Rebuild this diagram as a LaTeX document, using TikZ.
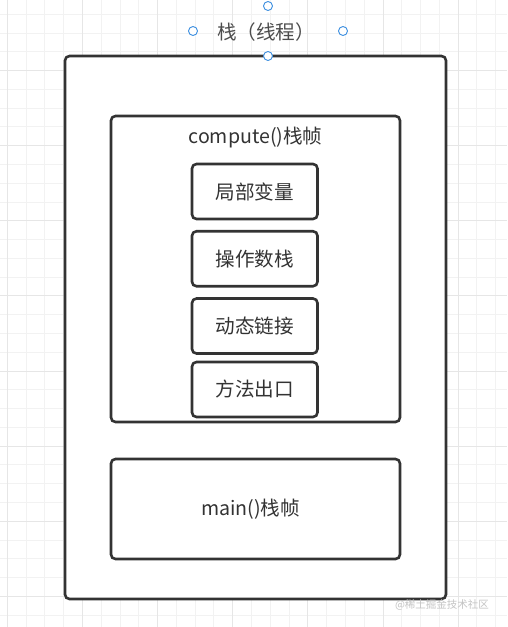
\documentclass[tikz,border=0pt]{standalone}
\usepackage{fontspec}
\setmainfont{Noto Sans CJK SC}
\newfontfamily\cjk{Noto Sans CJK SC}
\definecolor{edge}{HTML}{333333}
\definecolor{txt}{HTML}{333333}
\definecolor{ttl}{HTML}{4D4D4D}
\definecolor{minorgrid}{HTML}{F2F2F2}
\definecolor{majorgrid}{HTML}{E6E6E6}
\definecolor{handle}{HTML}{3D8FE0}
\definecolor{wm}{HTML}{C4C4C4}
\begin{document}
\begin{tikzpicture}[x=1pt,y=-1pt,
  frame/.style={draw=edge,line width=2.6pt,rounded corners=4.5pt,fill=white,inner sep=0pt},
  slot/.style={frame,minimum width=125.5pt,minimum height=55pt,font=\cjk\fontsize{19.6}{22}\selectfont,text=txt},
  lbl/.style={font=\cjk\fontsize{19.6}{22}\selectfont,text=txt,inner sep=0pt},
  handlept/.style={circle,draw=handle,fill=white,line width=0.9pt,minimum size=9pt,inner sep=0pt}]
\useasboundingbox (0,0) rectangle (507,627);
\fill[white] (0,0) rectangle (507,627);
% grid
\foreach \i in {0,...,26} {
  \draw[minorgrid,line width=0.8pt] ({7.3+18.78*\i},0) -- ({7.3+18.78*\i},627);
}
\foreach \j in {-3,...,32} {
  \draw[minorgrid,line width=0.8pt] (0,{70.5+18.78*\j}) -- (507,{70.5+18.78*\j});
}
\foreach \i in {0,...,6} {
  \draw[majorgrid,line width=0.8pt] ({7.3+75.12*\i},0) -- ({7.3+75.12*\i},627);
}
\foreach \j in {-1,...,7} {
  \draw[majorgrid,line width=0.8pt] (0,{70.5+75.12*\j}) -- (507,{70.5+75.12*\j});
}
% outer stack
\node[frame,minimum width=381pt,minimum height=543pt] (stack) at (255.5,327.5) {};
\node[lbl,text=ttl,font=\cjk\fontsize{19.6}{22}\selectfont] (title) at (266,32) {栈（线程）};
% compute frame
\node[frame,minimum width=289pt,minimum height=306pt] (compute) at (255.5,269) {};
\node[lbl] (computelbl) at (255.5,137.5) {compute()栈帧};
\node[slot] (locals) at (254.75,191.5) {局部变量};
\node[slot] (operand) at (254.75,258.75) {操作数栈};
\node[slot] (dynlink) at (254.75,326) {动态链接};
\node[slot] (retaddr) at (254.75,389.5) {方法出口};
% main frame
\node[frame,minimum width=289pt,minimum height=100pt] (mainframe) at (255.5,509) {};
\node[lbl] (mainlbl) at (250.5,509) {main()栈帧};
% selection handles
\node[handlept] (h1) at (268,6) {};
\node[handlept] (h2) at (193,31) {};
\node[handlept] (h3) at (343,31) {};
\node[handlept] (h4) at (268,56) {};
% watermark
\node[font=\cjk\fontsize{10.5}{12}\selectfont,text=wm,inner sep=0pt] (wmark) at (442,605) {@稀土掘金技术社区};
\end{tikzpicture}
\end{document}
